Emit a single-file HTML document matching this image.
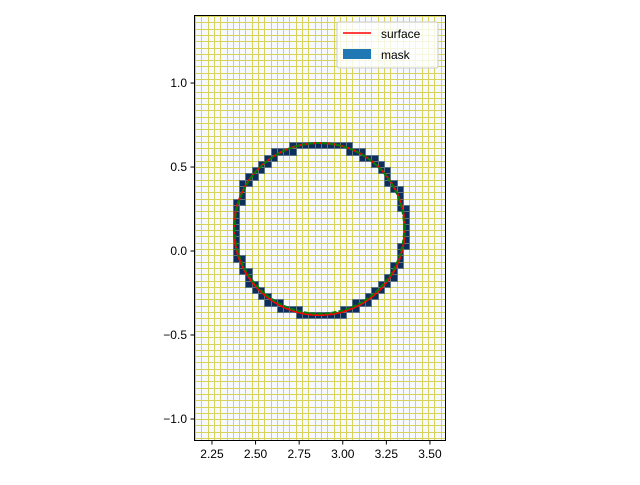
<!DOCTYPE html>
<html><head><meta charset="utf-8"><style>
body{margin:0;background:#fff;}
svg text{font-family:"Liberation Sans","DejaVu Sans",sans-serif;font-size:12px;fill:#000;}
</style></head><body>
<svg id="chart" width="640" height="480" xmlns="http://www.w3.org/2000/svg">
<defs><clipPath id="clip"><rect x="194" y="15" width="252" height="426"/></clipPath></defs>
<g id="grid" clip-path="url(#clip)"></g>
<g id="mask" clip-path="url(#clip)"></g>
<g id="lines" clip-path="url(#clip)"></g>
<rect x="194.5" y="15.5" width="251" height="425" fill="none" stroke="#000" stroke-width="1"/>
<g id="axes"></g>
<g>
<rect x="337" y="22" width="101" height="46" rx="2" fill="#fff" fill-opacity="0.8" stroke="#ccc"/>
<line x1="343" y1="33" x2="371" y2="33" stroke="red" stroke-width="1.5"/>
<text x="381" y="38">surface</text>
<rect x="343" y="49" width="28" height="10" fill="#1f77b4"/>
<text x="381" y="59">mask</text>
</g>
</svg>
<script>
const xTicks=[2.25,2.5,2.75,3.0,3.25,3.5];
const xTickLabels=["2.25","2.50","2.75","3.00","3.25","3.50"];
const yTicks=[-1.0,-0.5,0.0,0.5,1.0];
const yTickLabels=["\u22121.0","\u22120.5","0.0","0.5","1.0"];
const circleCenter=[2.866,0.131];
const circleRadius=[0.49,0.512];
const cellSize=[0.0361,0.0375];
const xDomain=[2.147,3.592], yDomain=[-1.131,1.405];
const L=194,R=446,T=15,B=441;
const sx=v=>L+(v-xDomain[0])/(xDomain[1]-xDomain[0])*(R-L);
const sy=v=>B-(v-yDomain[0])/(yDomain[1]-yDomain[0])*(B-T);
const NS="http://www.w3.org/2000/svg";
function mk(tag,attrs,parent){const e=document.createElementNS(NS,tag);for(const k in attrs)e.setAttribute(k,attrs[k]);parent.appendChild(e);return e;}
const snap=v=>Math.round(v)+0.5;
const grid=document.getElementById('grid');
mk('rect',{x:L,y:T,width:R-L,height:B-T,fill:'#f6f9fd'},grid);
const dx=cellSize[0],dy=cellSize[1];
const gx0=xDomain[0]+0.006, gy0=yDomain[1]-0.006;
for(let x=gx0;x<xDomain[1];x+=dx){const p=snap(sx(x));const l=mk('line',{x1:p,x2:p,y1:T,y2:B,stroke:'#d6d25a','stroke-width':1},grid);

}
for(let y=gy0;y>yDomain[0];y-=dy){const p=snap(sy(y));const l=mk('line',{x1:L,x2:R,y1:p,y2:p,stroke:'#d6d25a','stroke-width':1},grid);

}
const mg=document.getElementById('mask');
const cx=circleCenter[0],cy=circleCenter[1],rx=circleRadius[0],ry=circleRadius[1];
const nd=(x,y)=>Math.hypot((x-cx)/rx,(y-cy)/ry);
for(let x=gx0;x<xDomain[1];x+=dx){for(let y=gy0;y>yDomain[0];y-=dy){
 const x1=x,x2=x+dx,y1=y-dy,y2=y;
 const nx=Math.max(x1,Math.min(cx,x2)),ny=Math.max(y1,Math.min(cy,y2));
 const dmin=nd(nx,ny);
 const dmax=Math.max(nd(x1,y1),nd(x2,y1),nd(x1,y2),nd(x2,y2));
 if(dmin<1&&dmax>1){const a=snap(sx(x1)),b=snap(sy(y2)),c2=snap(sx(x2)),e=snap(sy(y1));
 const c=mk('rect',{x:a,y:b,width:c2-a,height:e-b,fill:'#0c2e5c',stroke:'#5d7480','stroke-width':1},mg);
 
 }
}}
const lg=document.getElementById('lines');
let p1='',p2='';
for(let i=0;i<=180;i++){const a=i/180*2*Math.PI;
 p1+=(i?'L':'M')+sx(cx+rx*Math.cos(a)).toFixed(2)+','+sy(cy+ry*Math.sin(a)).toFixed(2);
 p2+=(i?'L':'M')+sx(cx+(rx-0.004)*Math.cos(a)).toFixed(2)+','+sy(cy+(ry-0.004)*Math.sin(a)+0.004).toFixed(2);}
const red=mk('path',{d:p1,fill:'none',stroke:'red','stroke-width':2},lg);


const grn=mk('path',{d:p2,fill:'none',stroke:'green','stroke-width':2,'stroke-dasharray':'5,2'},lg);


const ax=document.getElementById('axes');
xTicks.forEach((v,i)=>{const t=mk('line',{x1:sx(v),x2:sx(v),y1:B,y2:B+3.5,stroke:'#000'},ax);


const tx=mk('text',{x:sx(v),y:B+17,'text-anchor':'middle'},ax);tx.textContent=xTickLabels[i];

});
yTicks.forEach((v,i)=>{const t=mk('line',{x1:L-3.5,x2:L,y1:sy(v),y2:sy(v),stroke:'#000'},ax);


const tx=mk('text',{x:L-7,y:sy(v)+4,'text-anchor':'end'},ax);tx.textContent=yTickLabels[i];

});
</script>
</body></html>
